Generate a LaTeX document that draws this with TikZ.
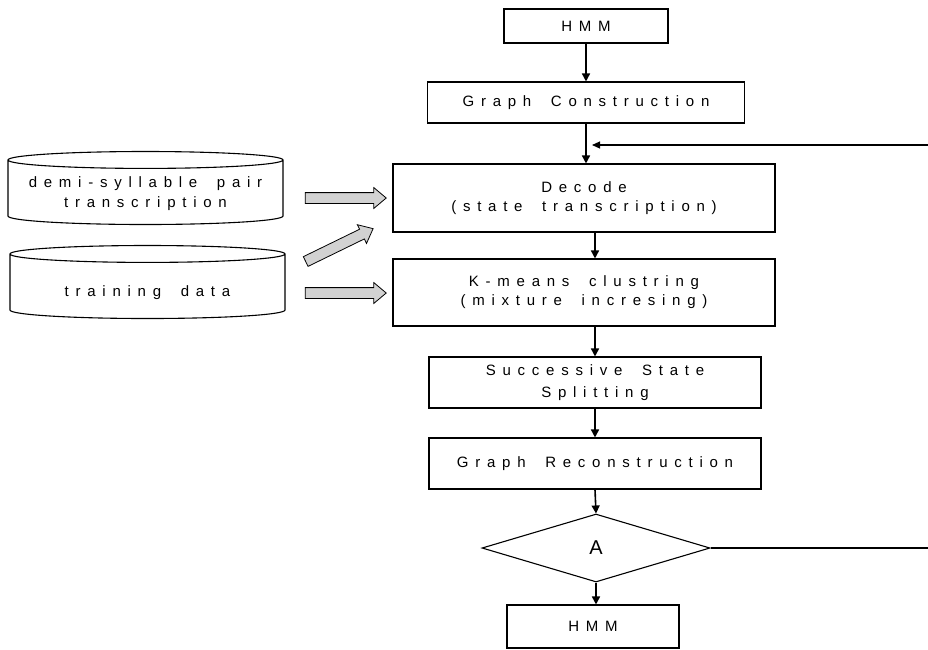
\documentclass[tikz,border=0pt]{standalone}
\usepackage{fontspec}
\setmainfont{Liberation Sans}
\newfontfamily\spaced[LetterSpace=45,WordSpace=1.8]{Liberation Sans}
\usetikzlibrary{shapes.geometric,shapes.arrows,arrows.meta}

\tikzset{
  box/.style={draw, line width=1.1pt, rectangle, inner sep=0pt, align=center,
    font=\spaced\fontsize{15}{19}\selectfont},
  db/.style={draw, line width=1.1pt, cylinder, shape border rotate=90, aspect=0.065,
    inner sep=0pt, minimum width=275pt, minimum height=73pt},
  dbtext/.style={inner sep=0pt, align=center, font=\spaced\fontsize{15}{20}\selectfont},
  test/.style={draw, line width=1.1pt, diamond, inner sep=0pt,
    minimum width=228pt, minimum height=68pt, font=\fontsize{20}{22}\selectfont},
  flow/.style={line width=1.6pt, -{Triangle[length=8pt,width=8pt]}},
  back/.style={line width=1.1pt, -{Triangle[length=8pt,width=7pt]}},
  fat/.style={draw, line width=0.8pt, fill=gray!35, single arrow, inner xsep=0pt,
    inner ysep=5pt, single arrow head extend=5pt, single arrow tip angle=80}
}

\begin{document}
\begin{tikzpicture}[x=1pt, y=-1pt]
\useasboundingbox (0,0) rectangle (928,649);
% main flow
\node[box, minimum width=164pt, minimum height=34pt] (hmmtop) at (586,26) {HMM};
\node[box, minimum width=317pt, minimum height=41pt] (gcon) at (586,102.5) {Graph Construction};
\node[box, minimum width=382pt, minimum height=68pt] (decode) at (584,198) {Decode\\(state transcription)};
\node[box, minimum width=382pt, minimum height=67pt] (kmeans) at (584,292.5) {K-means clustring\\(mixture incresing)};
\node[box, minimum width=332pt, minimum height=51pt, font=\spaced\fontsize{15}{22}\selectfont] (split) at (595,382.5) {Successive State\\Splitting};
\node[box, minimum width=332pt, minimum height=51pt] (grec) at (595,463.5) {Graph Reconstruction};
\node[test] (cond) at (596,548) {A};
\node[box, minimum width=172pt, minimum height=43pt] (hmmbot) at (593,626.5) {HMM};

% data
\node[db] (pairdb) at (145.5,192.5) {\hspace*{260pt}};
\node[dbtext] (pairtxt) at ([yshift=-1pt]pairdb.center) {demi-syllable pair\\transcription};
\node[db] (traindb) at (147.5,286.5) {\hspace*{260pt}};
\node[dbtext] (traintxt) at ([yshift=-6pt]traindb.center) {training data};

\node[fat, minimum height=81pt] (feed1) at (342.5,198) {};
\node[fat, minimum height=75pt, rotate=26] (feed2) at (336.5,246.5) {};
\node[fat, minimum height=81pt] (feed3) at (342.5,293) {};

\draw[flow] (hmmtop.south) -- (hmmtop.south |- gcon.north);
\draw[flow] (gcon.south) -- (gcon.south |- decode.north);
\draw[flow] ([xshift=11pt]decode.south) -- ([xshift=11pt]kmeans.north);
\draw[flow] (split.north |- kmeans.south) -- (split.north);
\draw[flow] (split.south) -- (grec.north);
\draw[flow] (grec.south) -- (cond.north);
\draw[flow] (cond.south) -- (cond.south |- hmmbot.north);

% loop back
\coordinate (loopin) at (928,548);
\coordinate (loopout) at (928,145);
\draw[line width=1.1pt] (cond.east) -- (loopin);
\draw[back] (loopout) -- ([xshift=6pt]gcon.south |- loopout);
\end{tikzpicture}
\end{document}
